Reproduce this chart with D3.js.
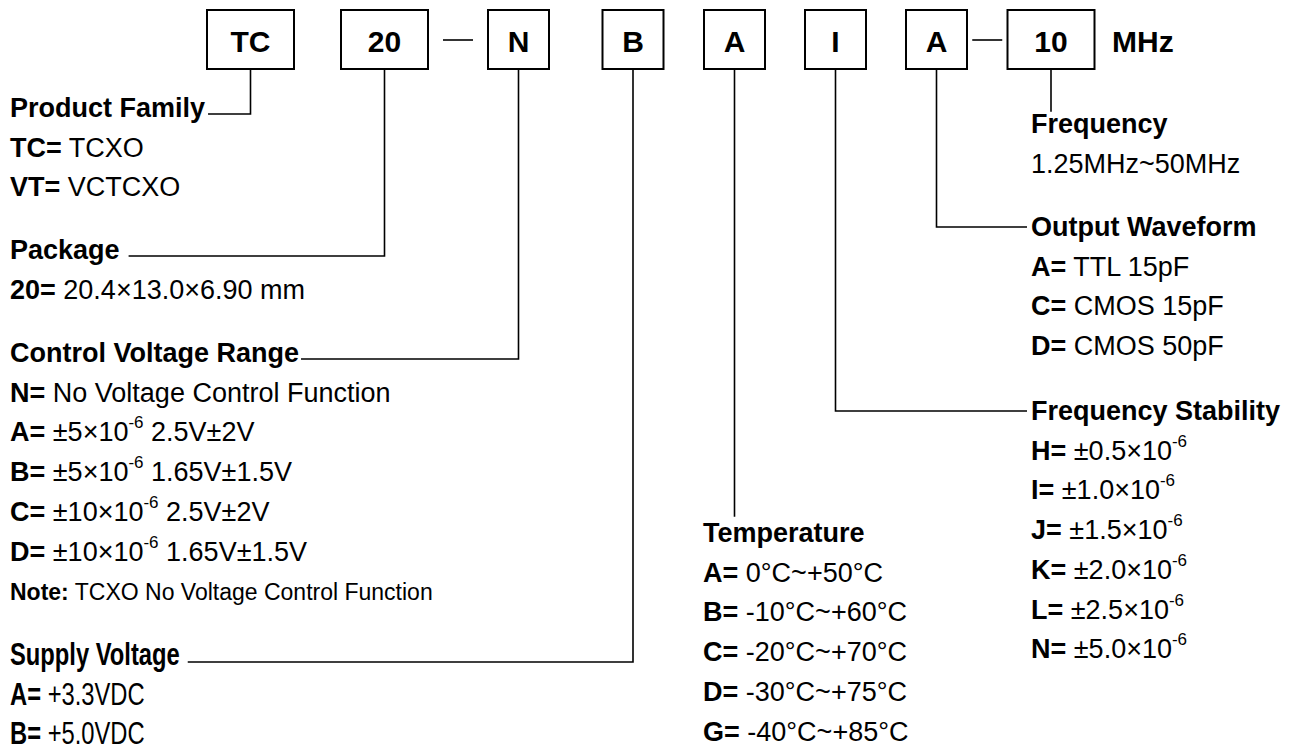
<!DOCTYPE html>
<html><head><meta charset="utf-8">
<script src="https://cdn.jsdelivr.net/npm/d3@7"></script>
<style>body{margin:0;background:#fff} svg{display:block}</style>
</head><body>
<svg id="c" width="1296" height="751"></svg>
<script>
// ---- data ----
const codes = ["TC","20","N","B","A","I","A","10"];
const unitText = "MHz";
const familyItems = [["TC","TCXO"],["VT","VCTCXO"]];
const packageItems = [["20","20.4×13.0×6.90 mm"]];
const controlItems = [["N","No Voltage Control Function"],["A","±5×10^-6 2.5V±2V"],["B","±5×10^-6 1.65V±1.5V"],["C","±10×10^-6 2.5V±2V"],["D","±10×10^-6 1.65V±1.5V"]];
const controlNote = ["Note:","TCXO No Voltage Control Function"];
const supplyItems = [["A","+3.3VDC"],["B","+5.0VDC"]];
const tempItems = [["A","0°C~+50°C"],["B","-10°C~+60°C"],["C","-20°C~+70°C"],["D","-30°C~+75°C"],["G","-40°C~+85°C"]];
const waveItems = [["A","TTL 15pF"],["C","CMOS 15pF"],["D","CMOS 50pF"]];
const stabItems = [["H","±0.5×10^-6"],["I","±1.0×10^-6"],["J","±1.5×10^-6"],["K","±2.0×10^-6"],["L","±2.5×10^-6"],["N","±5.0×10^-6"]];
const freqItems = [[null,"1.25MHz~50MHz"]];
const dashAfter = [1, 6]; // a dash follows these boxes

// ---- layout ----
const FONT = "'Liberation Sans', Arial, Helvetica, sans-serif";
const boxCenters = [250.5, 384.5, 518.5, 633, 734.5, 835.5, 936.5, 1051];
const boxTop = 10, boxH = 59;
const boxW = d => d.length > 1 ? 87 : 61;
const rowH = 39.7;
const fs = 27;

const sections = [
 {title:"Product Family", items:familyItems, box:0, side:"left", x:10, y:117, gap:3},
 {title:"Package", items:packageItems, box:1, side:"left", x:10, y:259, gap:9},
 {title:"Control Voltage Range", items:controlItems, note:controlNote, box:2, side:"left", x:10, y:362, gap:2},
 {title:"Supply Voltage", items:supplyItems, box:3, side:"left", x:10, y:665, gap:8, sx:0.88, sy:1.15},
 {title:"Temperature", items:tempItems, box:4, side:"down", x:703, y:542, stemGap:6},
 {title:"Frequency Stability", items:stabItems, box:5, side:"right", x:1031, y:420},
 {title:"Output Waveform", items:waveItems, box:6, side:"right", x:1031, y:236},
 {title:"Frequency", items:freqItems, box:7, side:"down", x:1031, y:133, stemGap:2},
];

const svg = d3.select("#c");
const xBox = d3.scaleOrdinal().domain(d3.range(codes.length)).range(boxCenters);

// boxes
const g = svg.append("g");
g.selectAll("rect.box").data(codes).join("rect")
  .attr("x", (d,i) => xBox(i) - boxW(d)/2).attr("y", boxTop)
  .attr("width", d => boxW(d)).attr("height", boxH)
  .attr("fill", "#fff").attr("stroke", "#000").attr("stroke-width", 2);
g.selectAll("text.code").data(codes).join("text")
  .attr("x", (d,i) => xBox(i)).attr("y", 52)
  .attr("text-anchor", "middle").attr("font-family", FONT)
  .attr("font-weight", "bold").attr("font-size", 30).text(d => d);
g.append("text").attr("x", 1112).attr("y", 52).attr("font-family", FONT)
  .attr("font-weight", "bold").attr("font-size", 30).text(unitText);

// dashes between boxes
g.selectAll("line.dash").data(dashAfter).join("line")
  .attr("x1", i => { const a = xBox(i) + boxW(codes[i])/2, b = xBox(i+1) - boxW(codes[i+1])/2; return (a+b)/2 - 15; })
  .attr("x2", i => { const a = xBox(i) + boxW(codes[i])/2, b = xBox(i+1) - boxW(codes[i+1])/2; return (a+b)/2 + 15; })
  .attr("y1", 40).attr("y2", 40).attr("stroke", "#000").attr("stroke-width", 1.6);

function rich(sel, str) {
  const parts = str.split(/\^(-?\d+)/);
  let up = false;
  parts.forEach((p, i) => {
    if (i % 2 === 0) {
      if (!p) return;
      const t = sel.append("tspan").text(p);
      if (up) { t.attr("dy", 13); up = false; }
    } else {
      sel.append("tspan").attr("font-size", 17).attr("dy", -13).text(p);
      up = true;
    }
  });
}

sections.forEach(s => {
  const sg = svg.append("g");
  const sx = s.sx || 1, sy = s.sy || 1;
  const place = (yb) => `translate(${s.x},${yb}) scale(${sx},${sy})`;
  const title = sg.append("text").attr("transform", place(s.y))
    .attr("font-family", FONT).attr("font-weight", "bold").attr("font-size", fs).text(s.title);
  const rows = s.items.slice();
  rows.forEach((r, i) => {
    const t = sg.append("text").attr("transform", place(s.y + rowH*(i+1)))
      .attr("font-family", FONT).attr("font-size", fs);
    if (r[0] !== null) {
      t.append("tspan").attr("font-weight", "bold").text(r[0] + "=");
      t.append("tspan").text(" ");
    }
    rich(t, r[1]);
  });
  if (s.note) {
    const t = sg.append("text").attr("transform", place(s.y + rowH*(rows.length+1)))
      .attr("font-family", FONT).attr("font-size", 23);
    t.append("tspan").attr("font-weight", "bold").text(s.note[0]);
    t.append("tspan").text(" " + s.note[1]);
  }
  const stemX = xBox(s.box);
  const bottom = boxTop + boxH;
  let path;
  if (s.side === "left") {
    const tEnd = s.x + title.node().getComputedTextLength() * sx + s.gap;
    const ly = s.y - 3;
    path = `M${tEnd},${ly}H${stemX}V${bottom}`;
  } else if (s.side === "right") {
    const ly = s.y - 9;
    path = `M${stemX},${bottom}V${ly}H${s.x - 4}`;
  } else {
    const ey = s.y - fs*0.716 - s.stemGap;
    path = `M${stemX},${bottom}V${ey}`;
  }
  sg.append("path").attr("d", path).attr("fill", "none").attr("stroke", "#000").attr("stroke-width", 1.6);
});
</script>
</body></html>
